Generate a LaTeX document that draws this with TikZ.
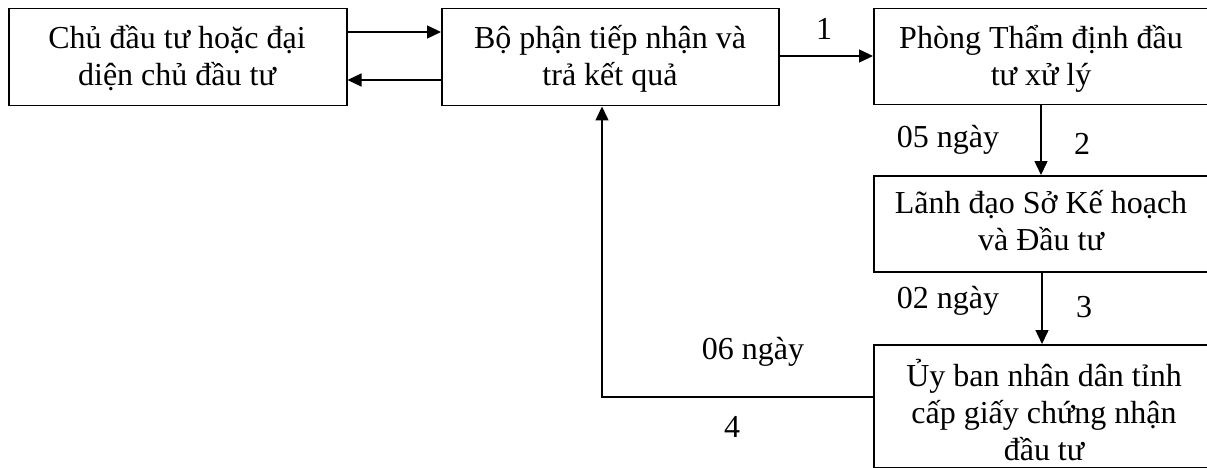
\documentclass[tikz,border=0pt]{standalone}
\usepackage{fontspec}
\setmainfont{Liberation Serif}
\usetikzlibrary{arrows.meta}
\begin{document}
\begin{tikzpicture}[x=1pt,y=-1pt,
  box/.style={draw,line width=1.5pt,rectangle,anchor=north west,inner sep=0pt},
  txt/.style={anchor=north,align=center,inner sep=0pt,font=\fontsize{32}{37}\selectfont},
  lbl/.style={anchor=base,inner sep=0pt,font=\fontsize{32}{37}\selectfont},
  arr/.style={line width=1.5pt,-{Triangle[length=14pt,width=13pt]}}]
\useasboundingbox (0,0) rectangle (1207,468);
% boxes
\node[box,minimum width=338pt,minimum height=97pt] (A) at (8,8) {};
\node[box,minimum width=337pt,minimum height=97pt] (B) at (441,8) {};
\node[box,minimum width=350pt,minimum height=96pt] (C) at (873,8) {};
\node[box,minimum width=350pt,minimum height=96pt] (D) at (873,175) {};
\node[box,minimum width=350pt,minimum height=123pt] (E) at (873,344) {};
% texts
\node[txt] (tA) at (177,22.6) {\strut Chủ đầu tư hoặc đại\\\strut diện chủ đầu tư};
\node[txt] (tB) at (610,22.6) {\strut Bộ phận tiếp nhận và\\\strut trả kết quả};
\node[txt] (tC) at (1041,22.1) {\strut Phòng Thẩm định đầu\\\strut tư xử lý};
\node[txt] (tD) at (1041,187.1) {\strut Lãnh đạo Sở Kế hoạch\\\strut và Đầu tư};
\node[txt] (tE) at (1044,359.1) {\strut Ủy ban nhân dân tỉnh\\\strut cấp giấy chứng nhận\\\strut đầu tư};
% connectors
\coordinate (k1) at (602,397);
\draw[arr] (A.east |- 0,32) -- (B.west |- 0,32);
\draw[arr] (B.west |- 0,80) -- (A.east |- 0,80);
\draw[arr] (B.east |- 0,56) -- (C.west |- 0,56);
\draw[arr] (C.south -| 1041,0) -- (D.north -| 1041,0);
\draw[arr] (D.south -| 1042,0) -- (E.north -| 1042,0);
\draw[arr] (E.west |- k1) -- (k1) -- (B.south -| k1);
% labels
\node[lbl] (l1) at (824,40) {1};
\node[lbl] (l05) at (948,147) {05 ngày};
\node[lbl] (l2) at (1082,154) {2};
\node[lbl] (l02) at (948,308) {02 ngày};
\node[lbl] (l3) at (1084,317) {3};
\node[lbl] (l06) at (753,359) {06 ngày};
\node[lbl] (l4) at (732,437) {4};
\end{tikzpicture}
\end{document}
